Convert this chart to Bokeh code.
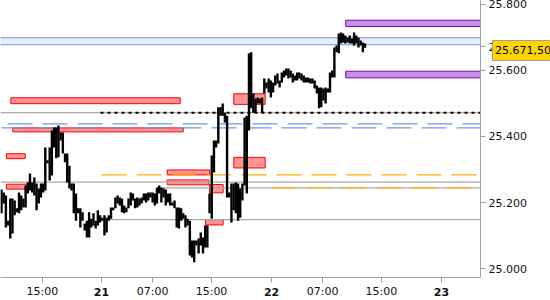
from bokeh.plotting import figure
from bokeh.models import Range1d, FixedTicker, LinearAxis, Div
from bokeh.layouts import column
from bokeh.embed import file_html
from bokeh.resources import INLINE

# ---- data (price bars) ----
highs = [25240, 25231, 25222, 25146, 25213, 25213, 25207, 25183, 25231, 25222,
         25213, 25252, 25261, 25288, 25261, 25276, 25258, 25243, 25258, 25258,
         25367, 25328, 25367, 25418, 25427, 25427, 25433, 25412, 25412, 25349,
         25349, 25312, 25258, 25258, 25228, 25183, 25183, 25171, 25137, 25146,
         25171, 25152, 25168, 25146, 25177, 25162, 25155, 25162, 25155, 25162,
         25186, 25186, 25216, 25222, 25216, 25213, 25192, 25186, 25213, 25231,
         25228, 25213, 25216, 25213, 25216, 25228, 25228, 25231, 25231, 25231,
         25228, 25246, 25252, 25246, 25243, 25240, 25228, 25228, 25201, 25207,
         25186, 25186, 25183, 25168, 25162, 25152, 25146, 25086, 25086, 25086,
         25092, 25110, 25095, 25131, 25131, 25228, 25343, 25388, 25388, 25488,
         25488, 25500, 25472, 25463, 25231, 25258, 25258, 25261, 25258, 25243,
         25258, 25457, 25463, 25651, 25654, 25530, 25515, 25518, 25515, 25518,
         25575, 25563, 25575, 25569, 25563, 25584, 25590, 25569, 25593, 25599,
         25605, 25605, 25599, 25590, 25584, 25593, 25593, 25590, 25584, 25578,
         25578, 25575, 25575, 25569, 25554, 25548, 25548, 25545, 25548, 25545,
         25593, 25599, 25669, 25675, 25711, 25714, 25711, 25705, 25699, 25705,
         25696, 25714, 25705, 25699, 25690, 25684, 25681]
lows = [25168, 25198, 25125, 25131, 25092, 25107, 25162, 25171, 25168, 25177,
        25186, 25186, 25228, 25237, 25231, 25222, 25177, 25198, 25216, 25231,
        25237, 25319, 25267, 25282, 25367, 25334, 25337, 25388, 25349, 25322,
        25261, 25243, 25237, 25168, 25146, 25168, 25125, 25146, 25116, 25095,
        25095, 25125, 25131, 25122, 25131, 25140, 25146, 25101, 25110, 25146,
        25152, 25177, 25183, 25198, 25192, 25171, 25168, 25171, 25183, 25192,
        25207, 25183, 25186, 25192, 25198, 25207, 25201, 25207, 25216, 25201,
        25192, 25198, 25228, 25201, 25216, 25192, 25201, 25192, 25192, 25183,
        25125, 25122, 25146, 25152, 25125, 25131, 25041, 25035, 25020, 25071,
        25047, 25071, 25047, 25065, 25065, 25168, 25152, 25291, 25367, 25379,
        25463, 25463, 25442, 25216, 25216, 25140, 25177, 25168, 25146, 25155,
        25207, 25252, 25228, 25418, 25485, 25472, 25472, 25500, 25500, 25472,
        25530, 25545, 25533, 25518, 25533, 25554, 25560, 25548, 25563, 25578,
        25584, 25575, 25578, 25563, 25569, 25569, 25575, 25569, 25563, 25563,
        25563, 25560, 25560, 25545, 25530, 25485, 25488, 25509, 25500, 25533,
        25533, 25578, 25578, 25654, 25651, 25681, 25684, 25681, 25684, 25681,
        25681, 25675, 25681, 25669, 25675, 25654, 25668]
bar_index = list(range(len(highs)))

x_tick_pos = [18.7, 45.66, 69.0, 95.9, 123.3, 146.6, 173.5, 200.9]
x_tick_labels = ["15:00", "21", "07:00", "15:00", "22", "07:00", "15:00", "23"]
date_ticks = {"21", "22", "23"}
y_ticks = [25000, 25200, 25400, 25600, 25800]
y_tick_labels = ["25.000", "25.200", "25.400", "25.600", "25.800"]
last_price = 25671.5
last_label = "25.671,50"

# zones
red_x0 = [4.25, 5.16, 2.28, 2.28, 75.66, 75.66, 94.98, 93.15, 106.07, 106.07]
red_x1 = [81.6, 82.97, 10.82, 12.0, 95.1, 94.66, 101.2, 101.2, 120.4, 120.4]
red_bottom = [25499, 25414, 25333, 25241, 25284, 25254, 25230, 25133, 25305, 25497]
red_top = [25517, 25426, 25348, 25256, 25299, 25269, 25255, 25149, 25337, 25529]
purple_x0 = [157.2, 157.2]
purple_bottom = [25732, 25577]
purple_top = [25751, 25597]
band_bottom, band_top = 25677, 25698

gray_full = [25472, 25262]
gray_part_y = [25149, 25245]
gray_part_x0 = [45.66, 72.6]
dotted_y, dotted_x0 = 25472, 45.2
orange_y = [25284, 25245]
orange_x0 = [45.66, 123.3]
blue_y = [25438, 25426]
blue_x0 = [2.74, 0.0]

X_START, X_END = -0.46, 218.72
Y_START, Y_END = 24974.3, 25810.6
FW, FH = 480, 277

p = figure(frame_width=FW, frame_height=FH, output_backend="svg",
           toolbar_location=None, y_axis_location="right",
           x_range=Range1d(X_START, X_END), y_range=Range1d(Y_START, Y_END),
           min_border_left=0, min_border_top=0, min_border_right=70,
           min_border_bottom=23, outline_line_color=None,
           background_fill_color="white", border_fill_color="white")
p.xgrid.visible = False
p.ygrid.visible = False

FONT = "DejaVu Sans"
AX = "#a0a0a0"

p.quad(left=X_START - 5, right=X_END + 5, bottom=band_bottom, top=band_top,
       fill_color="#e8f0ff", line_color="#6b98ec", line_width=1)
p.quad(left=purple_x0, right=[X_END + 5] * 2, bottom=purple_bottom, top=purple_top,
       fill_color="#c493e3", line_color="#7f00bf", line_width=1)
p.quad(left=red_x0, right=red_x1, bottom=red_bottom, top=red_top,
       fill_color="#ff9494", line_color="#ff0000", line_width=1)

p.segment(x0=[X_START] * 2, x1=[X_END] * 2, y0=gray_full, y1=gray_full,
          line_color="#a8a8a8", line_width=1.2)
p.segment(x0=gray_part_x0, x1=[X_END] * 2, y0=gray_part_y, y1=gray_part_y,
          line_color="#a8a8a8", line_width=1.2)
p.segment(x0=[dotted_x0], x1=[X_END], y0=[dotted_y], y1=[dotted_y],
          line_color="black", line_width=2, line_dash="3 4")
p.segment(x0=orange_x0, x1=[X_END] * 2, y0=orange_y, y1=orange_y,
          line_color="#ffb000", line_width=1.2, line_dash="25 10")
p.segment(x0=blue_x0, x1=[X_END] * 2, y0=blue_y, y1=blue_y,
          line_color="#6b98ec", line_width=1.2, line_dash="25 10")

p.segment(x0=bar_index, x1=bar_index, y0=lows, y1=highs,
          line_color="black", line_width=2.4)

# ---- axes ----
xa = p.xaxis[0]
xa.ticker = FixedTicker(ticks=x_tick_pos)
xa.major_label_overrides = {pos: ("" if lab in date_ticks else lab)
                            for pos, lab in zip(x_tick_pos, x_tick_labels)}
ya = p.yaxis[0]
ya.ticker = FixedTicker(ticks=y_ticks + [last_price])
ov = {t: l for t, l in zip(y_ticks, y_tick_labels)}
ov[last_price] = last_label
ya.major_label_overrides = ov
for ax in (xa, ya):
    ax.axis_line_color = AX
    ax.major_tick_line_color = AX
    ax.minor_tick_line_color = None
    ax.major_tick_out = 5
    ax.major_tick_in = 0
    ax.major_label_text_font = FONT
    ax.major_label_text_font_size = "11px"
    ax.major_label_text_color = "#111111"
xa.major_label_standoff = 2
ya.major_label_standoff = 3

# bold day labels: second bottom axis pulled up onto the first one's label row
date_pos = [pos for pos, lab in zip(x_tick_pos, x_tick_labels) if lab in date_ticks]
xb = LinearAxis(ticker=FixedTicker(ticks=date_pos),
                major_label_overrides={pos: lab for pos, lab in zip(x_tick_pos, x_tick_labels)
                                       if lab in date_ticks},
                axis_line_color=None, major_tick_line_color=None,
                minor_tick_line_color=None, major_tick_out=0, major_tick_in=0,
                major_label_standoff=-13, major_label_text_font=FONT,
                major_label_text_font_size="11px", major_label_text_font_style="bold",
                major_label_text_color="#111111")
p.add_layout(xb, "below")

# last-price tag box (yellow), laid over the axis label of the last price
tag_top = round((Y_END - last_price) / (Y_END - Y_START) * FH) - 11
tag = Div(text=last_label, width=61, height=21,
          styles={"position": "absolute", "left": "487px", "top": f"{tag_top}px",
                  "background-color": "#ffd400", "border": "1px solid #a0a0a0",
                  "box-sizing": "border-box", "font-family": FONT,
                  "font-size": "11px", "line-height": "19px", "color": "black",
                  "padding": "0px 2px", "white-space": "nowrap", "z-index": "10"})

layout = column(p, tag, width=550, height=300)
open("out.html", "w").write(file_html(layout, INLINE))
